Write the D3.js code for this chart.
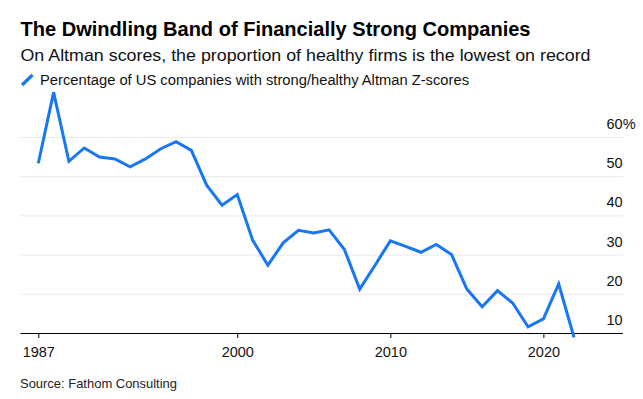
<!DOCTYPE html>
<html>
<head>
<meta charset="utf-8">
<script src="https://cdn.jsdelivr.net/npm/d3@7"></script>
<style>
  html, body { margin: 0; padding: 0; background: #fff; }
  svg { display: block; font-family: "Liberation Sans", Arial, sans-serif; }
</style>
</head>
<body>
<svg id="chart" width="643" height="399"></svg>
<script>
const years = d3.range(1987, 2023);
const values = [53.3, 71.4, 53.8, 57.2, 54.9, 54.4, 52.4, 54.4, 57.0, 58.8,
                56.6, 47.7, 42.6, 45.3, 33.7, 27.3, 33.0, 36.2, 35.5, 36.3,
                31.3, 21.2, 27.3, 33.5, 32.1, 30.6, 32.6, 30.0, 21.2, 16.7,
                20.8, 17.6, 11.6, 13.6, 22.5, 8.9];
const yTicks = [10, 20, 30, 40, 50, 60];
const xTicks = [1987, 2000, 2010, 2020];

const title = "The Dwindling Band of Financially Strong Companies";
const subtitle = "On Altman scores, the proportion of healthy firms is the lowest on record";
const legendLabel = "Percentage of US companies with strong/healthy Altman Z-scores";
const source = "Source: Fathom Consulting";

const data = years.map((y, i) => ({ year: y, value: values[i] }));

const svg = d3.select("#chart");
const color = "#1877f2";

const x = d3.scaleLinear().domain([1987, 2022]).range([38.3, 574]);
const y = d3.scaleLinear().domain([10, 60]).range([333, 137]);
const plotLeft = 20.5, plotRight = 623;

function fitText(sel, len) {
  sel.attr("textLength", len).attr("lengthAdjust", "spacingAndGlyphs");
}

// Titles
svg.append("text").attr("x", 20.5).attr("y", 36)
  .attr("font-size", 20).attr("font-weight", "bold").attr("fill", "#000")
  .text(title).call(fitText, 510);
svg.append("text").attr("x", 20.5).attr("y", 61)
  .attr("font-size", 17).attr("fill", "#111")
  .text(subtitle).call(fitText, 570);

// Legend
svg.append("line").attr("x1", 22).attr("y1", 85).attr("x2", 32.5).attr("y2", 75)
  .attr("stroke", color).attr("stroke-width", 3.2).attr("stroke-linecap", "butt");
svg.append("text").attr("x", 40).attr("y", 85)
  .attr("font-size", 14).attr("fill", "#111")
  .text(legendLabel).call(fitText, 429);

// Gridlines
svg.append("g").selectAll("line").data(yTicks.filter(t => t !== 10)).join("line")
  .attr("x1", plotLeft).attr("x2", plotRight)
  .attr("y1", d => y(d) + 0.5).attr("y2", d => y(d) + 0.5)
  .attr("stroke", "#e9e9e9").attr("stroke-width", 1);

// Y labels
svg.append("g").selectAll("text").data(yTicks).join("text")
  .attr("x", 606.5).attr("y", d => y(d) - 8)
  .attr("font-size", 14.5).attr("fill", "#111")
  .text(d => d === 60 ? d + "%" : d);

// X axis
const xAxis = d3.axisBottom(x).tickValues(xTicks).tickFormat(d3.format("d"))
  .tickSize(5).tickPadding(9);
const gx = svg.append("g").attr("transform", `translate(0,${y(10)})`).call(xAxis);
gx.select(".domain").remove();
gx.selectAll(".tick line").attr("stroke", "#000");
gx.selectAll(".tick text").attr("font-size", 14.5).attr("fill", "#111")
  .attr("font-family", "Liberation Sans, Arial, sans-serif");
svg.append("line").attr("x1", plotLeft).attr("x2", plotRight)
  .attr("y1", y(10) + 0.5).attr("y2", y(10) + 0.5)
  .attr("stroke", "#000").attr("stroke-width", 1);

// Line
const line = d3.line().x(d => x(d.year)).y(d => y(d.value));
svg.append("path").datum(data)
  .attr("d", line).attr("fill", "none")
  .attr("stroke", color).attr("stroke-width", 3)
  .attr("stroke-linejoin", "miter").attr("stroke-linecap", "butt");

// Source
svg.append("text").attr("x", 20).attr("y", 387.5)
  .attr("font-size", 13).attr("fill", "#222")
  .text(source).call(fitText, 157);
</script>
</body>
</html>
